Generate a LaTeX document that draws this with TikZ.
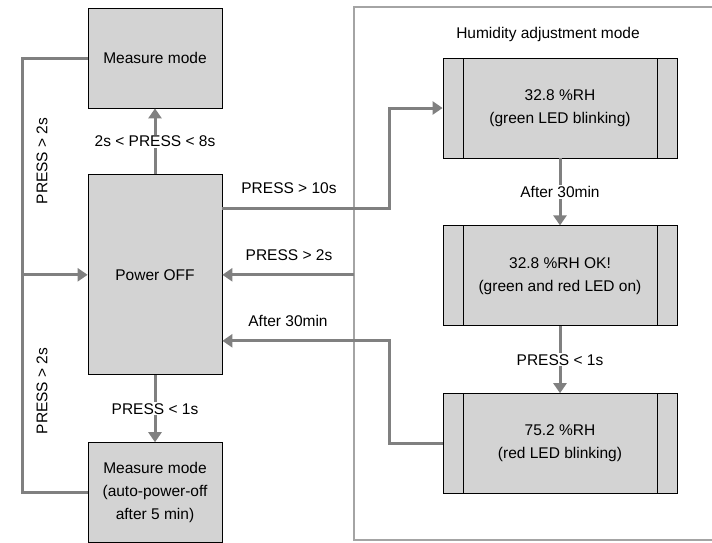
\documentclass[tikz,border=0pt]{standalone}
\usepackage{fontspec}
\setmainfont{Liberation Sans}
\usetikzlibrary{arrows.meta, positioning}
\definecolor{boxgray}{HTML}{D3D3D3}
\definecolor{linkgray}{HTML}{808080}
\definecolor{framegray}{HTML}{A4A4A4}

\begin{document}
\begin{tikzpicture}[
  x=1pt, y=-1pt,
  every node/.style={font=\fontsize{15.5}{23}\selectfont},
  state/.style={draw, fill=boxgray, align=center, minimum width=134pt,
    minimum height=100pt, inner sep=2pt, line width=0.8pt},
  hum/.style={state, minimum width=234pt,
    path picture={\draw[line width=0.8pt]
      ([xshift=20pt]path picture bounding box.north west) -- ([xshift=20pt]path picture bounding box.south west)
      ([xshift=-20pt]path picture bounding box.north east) -- ([xshift=-20pt]path picture bounding box.south east);}},
  arrow/.style={-{Triangle[length=10pt, width=13pt]}, draw=linkgray, line width=3pt},
  link/.style={draw=linkgray, line width=3pt},
  cond/.style={fill=white, inner sep=1pt},
  frame/.style={draw=framegray, line width=2.5pt}
]
\useasboundingbox (0,0) rectangle (712,542);
\draw[frame] (720,7) -| (354,540) -- (720,540);
\coordinate (frameleft) at (354,0);
\coordinate (jog) at (389,0);
\coordinate (loop) at (22,0);

\node[state] (measure) at (155,58) {Measure mode};
\node[state, below=66pt of measure, minimum height=200pt] (off) {Power OFF};
\node[state, below=67pt of off] (auto) {Measure mode\\(auto-power-off\\after 5 min)};

\node (title) at (548,34) {Humidity adjustment mode};
\node[hum] (green) at (560,108) {32.8 \%RH\\(green LED blinking)};
\node[hum, below=67pt of green] (ok) {32.8 \%RH OK!\\(green and red LED on)};
\node[hum, below=67pt of ok] (red) {75.2 \%RH\\(red LED blinking)};

\draw[arrow] (off) -- (measure) node[cond, midway] {2s < PRESS < 8s};
\draw[arrow] (off) -- (auto) node[cond, midway] {PRESS < 1s};
\draw[arrow] (green) -- (ok) node[cond, midway] {After 30min};
\draw[arrow] (ok) -- (red) node[cond, midway] {PRESS < 1s};

\draw[arrow] ([yshift=66pt]off.east) -| (jog |- green.west) -- (green.west);
\draw[arrow] (frameleft |- off.east) -- (off.east);
\draw[arrow] (red.west) -| ([yshift=-66pt]jog |- off.east) -- ([yshift=-66pt]off.east);
\draw[arrow] (measure.west) -| (loop |- off.west) -- (off.west);
\draw[link] (auto.west) -| (loop |- off.west);

\node at (289,188) {PRESS > 10s};
\node at (289,255) {PRESS > 2s};
\node at (288,321) {After 30min};
\node[rotate=90] at (42,161) {PRESS > 2s};
\node[rotate=90] at (42,391) {PRESS > 2s};
\end{tikzpicture}
\end{document}
